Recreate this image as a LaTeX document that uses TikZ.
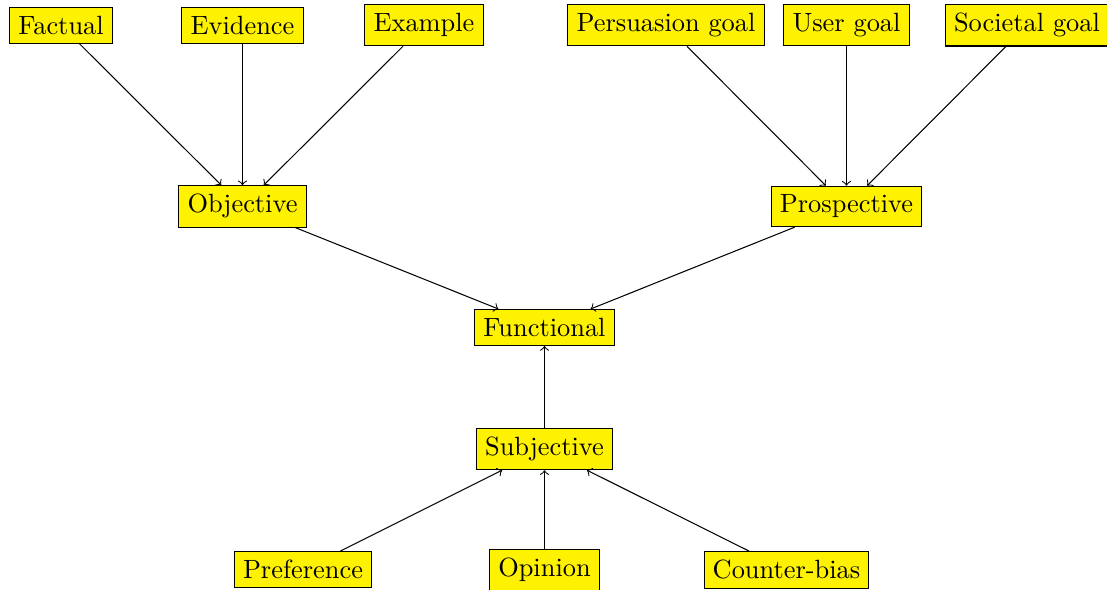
\documentclass[tikz,border=0pt]{standalone}
\usetikzlibrary{positioning}
\tikzset{
  fbox/.style={draw=black,fill=yellow,rectangle,font=\fontsize{10.15pt}{12pt}\selectfont},
  farrow/.style={->}
}
\begin{document}
\begin{tikzpicture}[x={(0.01352cm,0cm)},y={(0cm,-0.01352cm)}]
\useasboundingbox (0,0) rectangle (1107,590);
\pgfmathsetmacro{\ytop}{25.3}
\pgfmathsetmacro{\ymid}{206.4}
\pgfmathsetmacro{\ybot}{569.8}
\node[fbox] (factual) at (61,\ytop) {Factual};
\node[fbox] (evidence) at (242.5,\ytop) {Evidence};
\node[fbox] (example) at (424,\ytop) {Example};
\node[fbox] (persuasion) at (666,\ytop) {Persuasion goal};
\node[fbox] (usergoal) at (846.5,\ytop) {User goal};
\node[fbox] (societal) at (1027,\ytop) {Societal goal};
\node[fbox] (objective) at (242.5,\ymid) {Objective};
\node[fbox] (prospective) at (846.5,\ymid) {Prospective};
\node[fbox] (functional) at (544.5,327.5) {Functional};
\node[fbox] (subjective) at (544.5,449) {Subjective};
\node[fbox] (preference) at (303,\ybot) {Preference};
\node[fbox] (opinion) at (544.5,\ybot) {Opinion};
\node[fbox] (counterbias) at (786.5,\ybot) {Counter-bias};
\foreach \a in {factual,evidence,example} \draw[farrow] (\a) -- (objective);
\foreach \a in {persuasion,usergoal,societal} \draw[farrow] (\a) -- (prospective);
\foreach \a in {objective,prospective,subjective} \draw[farrow] (\a) -- (functional);
\foreach \a in {preference,opinion,counterbias} \draw[farrow] (\a) -- (subjective);
\end{tikzpicture}
\end{document}
